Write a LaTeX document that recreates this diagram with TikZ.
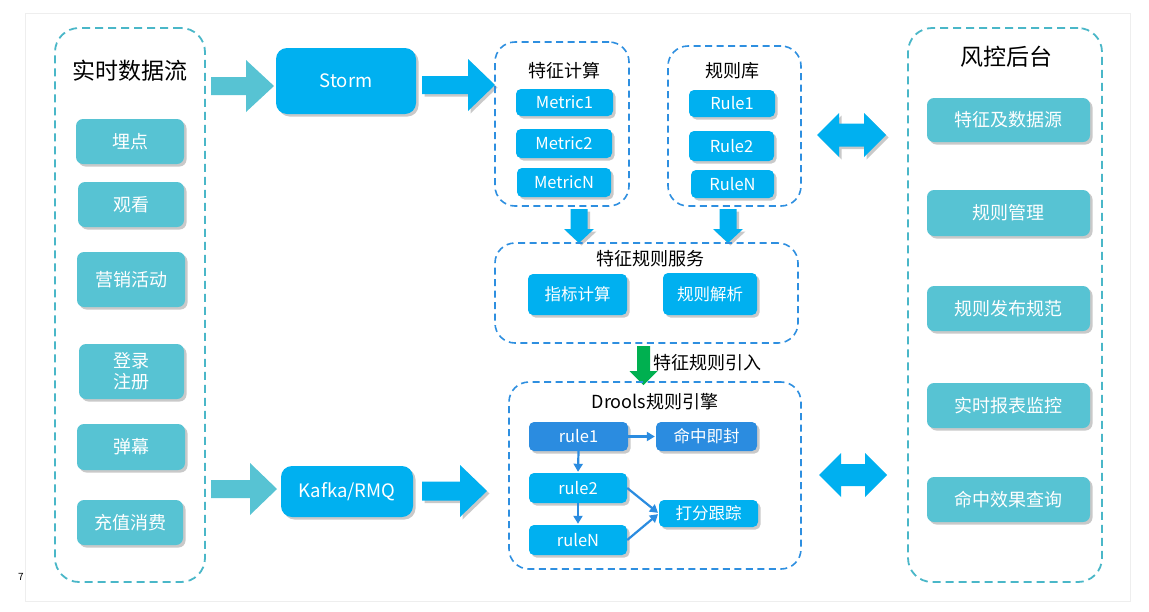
\documentclass[tikz,border=0pt]{standalone}
\usepackage{fontspec}
\setmainfont{Noto Sans CJK SC}
\usetikzlibrary{shadows,arrows.meta}
\definecolor{teal1}{HTML}{57C3D3}
\definecolor{tealdash}{HTML}{4AB7C8}
\definecolor{sky}{HTML}{00B0F0}
\definecolor{dblue}{HTML}{2B8CE0}
\definecolor{bdash}{HTML}{2E8FE0}
\definecolor{grn}{HTML}{00B050}
\definecolor{frameg}{HTML}{EEEEEE}
\tikzset{
 shad/.style={drop shadow={shadow xshift=2.5pt, shadow yshift=-2.5pt, opacity=0.35, fill=black!60}},
 box/.style={rectangle, rounded corners=7pt, inner sep=0pt, text=white, align=center, shad},
 tbox/.style={box, fill=teal1, font=\fontsize{18}{22}\selectfont},
 bigbox/.style={box, fill=sky, rounded corners=11pt, font=\fontsize{18.5}{21}\selectfont},
 sbox/.style={box, fill=sky, rounded corners=5pt, font=\fontsize{16.5}{19}\selectfont},
 dbox/.style={box, fill=dblue, rounded corners=5pt, font=\fontsize{16.5}{19}\selectfont},
 tcont/.style={rectangle, draw=tealdash, line width=1.8pt, dash pattern=on 8pt off 5pt, rounded corners=24pt, inner sep=0pt},
 bcont/.style={rectangle, draw=bdash, line width=1.6pt, dash pattern=on 7pt off 4.5pt, rounded corners=20pt, inner sep=0pt},
 bigtitle/.style={font=\fontsize{23}{26}\selectfont, text=black, inner sep=0pt},
 subtitle/.style={font=\fontsize{18}{20}\selectfont, text=black, inner sep=0pt},
 conn/.style={draw=dblue, line width=2.2pt, -{Triangle[length=8pt,width=9pt]}, shorten >=1pt},
}
\newcommand\bx[7]{\node[#1, minimum width={(#5-#3)*1pt}, minimum height={(#6-#4)*1pt}] (#2) at ({(#3+#5)/2},{(#4+#6)/2}) {#7};}
% horizontal block arrow: xstart, xheadbase, xtip, yc, shaft half, head half, style
\newcommand\harrow[7]{\fill[#7] ({#1},{#4-#5}) -- ({#2},{#4-#5}) -- ({#2},{#4-#6}) -- ({#3},{#4}) -- ({#2},{#4+#6}) -- ({#2},{#4+#5}) -- ({#1},{#4+#5}) -- cycle;}
% vertical block arrow: xc, ystart, yheadbase, ytip, shaft half, head half, style
\newcommand\varrow[7]{\fill[#7] ({#1-#5},{#2}) -- ({#1-#5},{#3}) -- ({#1-#6},{#3}) -- ({#1},{#4}) -- ({#1+#6},{#3}) -- ({#1+#5},{#3}) -- ({#1+#5},{#2}) -- cycle;}
% double arrow: xleft tip, xright tip, yc, head len, shaft half, head half, style
\newcommand\darrow[7]{\fill[#7] ({#1},{#3}) -- ({#1+#4},{#3-#6}) -- ({#1+#4},{#3-#5}) -- ({#2-#4},{#3-#5}) -- ({#2-#4},{#3-#6}) -- ({#2},{#3}) -- ({#2-#4},{#3+#6}) -- ({#2-#4},{#3+#5}) -- ({#1+#4},{#3+#5}) -- ({#1+#4},{#3+#6}) -- cycle;}
\begin{document}
\begin{tikzpicture}[x=1pt,y=-1pt]
\useasboundingbox[fill=white] (0,0) rectangle (1149,611);
\draw[frameg, line width=1pt] (25.5,13) rectangle (1130,601);
\node[font=\fontsize{10}{12}\selectfont, inner sep=0pt] (pagenum) at (21,577) {7};

% left container
\bx{tcont}{leftc}{55}{28}{205}{582}{}
\node[bigtitle] (lefttitle) at (130,71) {实时数据流};
\bx{tbox}{maidian}{76}{119}{184}{164}{埋点}
\bx{tbox}{guankan}{78}{182}{184}{227}{观看}
\bx{tbox}{yingxiao}{77}{252}{185}{307}{营销活动}
\bx{tbox}{denglu}{79}{344}{184}{399}{登录\\[-1pt]注册}
\bx{tbox}{danmu}{77}{424}{185}{470}{弹幕}
\bx{tbox}{chongzhi}{77}{500}{183}{545}{充值消费}

% first row arrows and Storm
\harrow{211}{246}{274}{86}{9}{26}{teal1}
\bx{bigbox}{storm}{276}{48}{416}{114}{Storm}
\harrow{422}{468}{495}{85}{9}{26}{sky,shad}

% second row arrows and Kafka
\harrow{211}{250}{277}{489}{9}{26}{teal1}
\bx{bigbox}{kafka}{281}{466}{413}{517}{Kafka/RMQ}
\harrow{422}{460}{487}{491}{9.5}{26}{sky,shad}

% feature computation
\bx{bcont}{featc}{495}{42}{629}{206}{}
\node[subtitle] (feattitle) at (564,71) {特征计算};
\bx{sbox}{m1}{516}{89}{613}{116}{Metric1}
\bx{sbox}{m2}{516}{129}{612}{158}{Metric2}
\bx{sbox}{mn}{517}{168}{611}{197}{MetricN}

% rule library
\bx{bcont}{rulec}{668}{46}{801}{206}{}
\node[subtitle] (ruletitle) at (732,71) {规则库};
\bx{sbox}{ru1}{689}{90}{775}{117}{Rule1}
\bx{sbox}{ru2}{689}{131}{774}{161}{Rule2}
\bx{sbox}{run}{691}{170}{774}{198}{RuleN}

% down arrows
\varrow{579}{209}{229}{243}{8.5}{15}{sky,shad}
\varrow{728}{209}{229}{243}{8.5}{15}{sky,shad}

% feature-rule service
\bx{bcont}{servc}{495}{243}{798}{343}{}
\node[subtitle] (servtitle) at (650,259) {特征规则服务};
\bx{sbox}{zhibiao}{528}{274}{627}{315}{指标计算}
\bx{sbox}{jiexi}{663}{273}{757}{315}{规则解析}

% green arrow
\varrow{643.5}{346}{371}{385}{6.5}{14}{grn}
\node[subtitle, anchor=west] (yinru) at (653,363) {特征规则引入};

% Drools
\bx{bcont}{drools}{509}{382}{801}{569}{}
\node[subtitle] (droolstitle) at (655,402) {Drools规则引擎};
\bx{dbox}{r1}{529}{422}{628}{451}{rule1}
\bx{dbox}{hit}{656}{422}{757}{451}{命中即封}
\bx{sbox}{r2}{529}{473}{627}{503}{rule2}
\bx{sbox}{score}{659}{500}{758}{527}{打分跟踪}
\bx{sbox}{rn}{529}{525}{627}{555}{ruleN}
\draw[conn] (r1.east) -- (hit.west);
\draw[conn] (r1.south) -- (r2.north);
\draw[conn] (r2.south) -- (rn.north);
\draw[conn] (r2.east) -- (score.west);
\draw[conn] (rn.east) -- (score.west);

% double arrows
\darrow{817}{886}{135}{22}{11.5}{22}{sky,shad}
\darrow{819}{887}{475}{22}{11}{22}{sky}

% right container
\bx{tcont}{rightc}{908}{28}{1102}{582}{}
\node[bigtitle] (righttitle) at (1006,57) {风控后台};
\bx{tbox}{tz}{927}{98}{1090}{142}{特征及数据源}
\bx{tbox}{gl}{927}{190}{1090}{236}{规则管理}
\bx{tbox}{fb}{927}{286}{1090}{331}{规则发布规范}
\bx{tbox}{bb}{927}{383}{1090}{428}{实时报表监控}
\bx{tbox}{cx}{927}{477}{1090}{522}{命中效果查询}
\end{tikzpicture}
\end{document}
